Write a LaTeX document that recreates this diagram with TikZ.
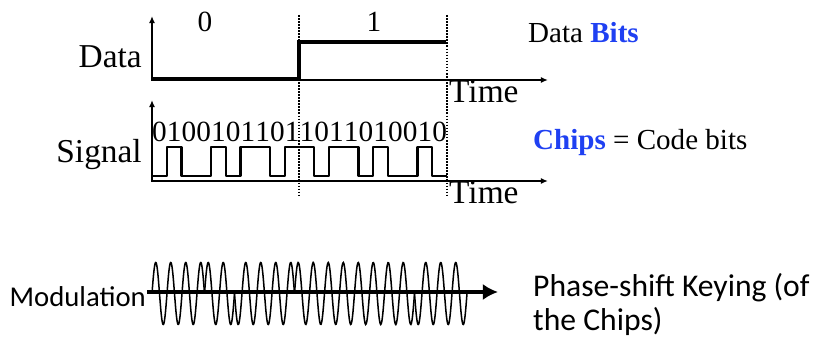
\documentclass[tikz,border=0pt]{standalone}
\usepackage{fontspec}
\usepackage{xcolor}
\usepackage{tikz}
\usetikzlibrary{arrows.meta}
\setmainfont{Liberation Serif}
\newfontfamily\calibrifont{Carlito}
\definecolor{chipblue}{HTML}{1F40F2}

\begin{document}
\begin{tikzpicture}[
        x=0.03cm, y=-0.03cm,
        axis/.style={line width=1.6pt, {Latex[length=6pt,width=5pt]}-{Latex[length=6pt,width=5pt]}},
        dataline/.style={line width=3.4pt},
        chipline/.style={line width=1.8pt, line join=round},
        bitsep/.style={line width=1.6pt, dash pattern=on 1.4pt off 1.2pt},
        carrier/.style={line width=1.3pt},
        modarrow/.style={line width=3.4pt, -{Latex[length=13pt,width=14pt]}},
        lbl/.style={inner sep=0pt, font=\fontsize{28.5}{32}\selectfont},
        chipdigit/.style={inner sep=0pt, anchor=base, font=\fontsize{25}{28}\selectfont},
        note/.style={inner sep=0pt, anchor=base west, font=\fontsize{24.8}{28}\selectfont},
        sanslbl/.style={inner sep=0pt, font=\calibrifont\fontsize{27}{30}\selectfont}
    ]
        \useasboundingbox (0,0) rectangle (827,341);

        % data bits
        \coordinate (dtop) at (152,16);
        \coordinate (dend) at (548,80);
        \draw[axis] (dtop) |- (dend);
        \draw[dataline] (152,79) -- (299,79) |- (446,42);
        \node[lbl, anchor=base east] (datalbl) at (142,68) {Data};
        \node[chipdigit] (bitzero) at (205,32) {0};
        \node[chipdigit] (bitone) at (374,32) {1};
        \node[lbl, anchor=base west] (timeone) at (449,103) {Time};
        \node[note] (databits) at (528,43) {Data \textcolor{chipblue}{\textbf{Bits}}};

        % chip sequence
        \coordinate (stop) at (152,100);
        \coordinate (send) at (548,181);
        \draw[axis] (stop) |- (send);
        \draw[chipline] (152,176)
            foreach \c [count=\i from 0] in {0,1,0,0,1,0,1,1,0,1,1,0,1,1,0,1,0,0,1,0} {
                -- ({152+14.75*\i}, {176-29*\c}) -- ({152+14.75*(\i+1)}, {176-29*\c})
            };
        \foreach \c [count=\i from 0] in {0,1,0,0,1,0,1,1,0,1,1,0,1,1,0,1,0,0,1,0}
            \node[chipdigit] (chip\i) at ({152+14.75*(\i+0.5)},142) {\c};
        \node[lbl, anchor=base east] (signallbl) at (142,163) {Signal};
        \node[lbl, anchor=base west] (timetwo) at (449,204) {Time};
        \node[note] (chipslbl) at (533,150) {\textcolor{chipblue}{\textbf{Chips}} = Code bits};

        % bit boundaries
        \draw[bitsep] (299,15) -- (299,197);
        \draw[bitsep] (447,15) -- (447,197);

        % modulated carrier
        \foreach \a/\b/\s in {152/204.5/1, 204.5/234.5/-1, 234.5/294.5/1, 294.5/414.5/-1, 414.5/467/1}
            \draw[carrier] plot[domain=\a:\b, samples=200] (\x, {293.5-31*\s*sin(24*(\x-152))});
        \node[sanslbl, anchor=base east, font=\calibrifont\fontsize{24.5}{28}\selectfont] (modlbl) at (146,307) {Modulation};
        \coordinate (modstart) at (147,292);
        \coordinate (modend) at (498,292);
        \draw[modarrow] (modstart) -- (modend);
        \node[sanslbl, anchor=base west] (psklineone) at (533,297) {Phase-shift Keying (of};
        \node[sanslbl, anchor=base west] (psklinetwo) at (533,330) {the Chips)};
    \end{tikzpicture}
\end{document}
